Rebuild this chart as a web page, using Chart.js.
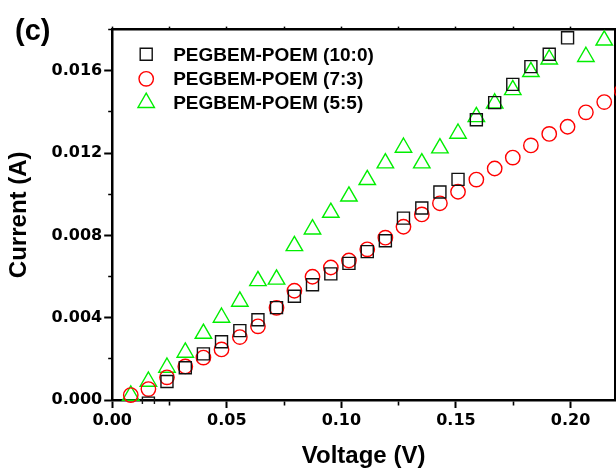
<!DOCTYPE html>
<html>
<head>
<meta charset="utf-8">
<script src="https://cdn.jsdelivr.net/npm/chart.js@4.4.1/dist/chart.umd.min.js"></script>
<style>
html,body{margin:0;padding:0;background:#fff;}
#wrap{width:616px;height:473px;}
</style>
</head>
<body>
<div id="wrap"><canvas id="c" width="616" height="473"></canvas></div>
<script>
// ---- data ----
const voltage = [0.0081, 0.0158, 0.0239, 0.0319, 0.0398, 0.0477, 0.0557, 0.0636, 0.0717, 0.0795,
                 0.0874, 0.0954, 0.1033, 0.1113, 0.1192, 0.1271, 0.1351, 0.1430, 0.1509, 0.1589,
                 0.1669, 0.1748, 0.1827, 0.1907, 0.1987, 0.2067, 0.2147, 0.2224];
const current10_0 = [null, -0.00015, 0.00090, 0.00157, 0.00224, 0.00283, 0.00337, 0.00390, 0.00449, 0.00504,
                     0.00560, 0.00613, 0.00664, 0.00721, 0.00774, 0.00884, 0.00933, 0.01011, 0.01072, 0.01362,
                     0.01445, 0.01534, 0.01620, 0.01680, 0.01760, null, null, null];
const current7_3 = [0.00024, 0.00053, 0.00110, 0.00163, 0.00206, 0.00246, 0.00306, 0.00358, 0.00448, 0.00531,
                    0.00599, 0.00644, 0.00678, 0.00732, 0.00789, 0.00842, 0.00902, 0.00956, 0.01012, 0.01071,
                    0.01125, 0.01178, 0.01237, 0.01293, 0.01328, 0.01398, 0.01448, 0.01501];
const current5_5 = [0.00022, 0.00090, 0.00158, 0.00231, 0.00323, 0.00401, 0.00479, 0.00579, 0.00586, 0.00749,
                    0.00830, 0.00911, 0.00990, 0.01070, 0.01151, 0.01227, 0.01151, 0.01224, 0.01295, 0.01376,
                    0.01442, 0.01507, 0.01595, 0.01656, null, 0.01668, 0.01748, null];
const seriesNames = ['PEGBEM-POEM (10:0)', 'PEGBEM-POEM (7:3)', 'PEGBEM-POEM (5:5)'];
const xTickValues = [0, 0.025, 0.05, 0.075, 0.10, 0.125, 0.15, 0.175, 0.20];
const xTickLabels = ['0.00', '', '0.05', '', '0.10', '', '0.15', '', '0.20'];
const yTickValues = [0, 0.002, 0.004, 0.006, 0.008, 0.010, 0.012, 0.014, 0.016, 0.018];
const yTickLabels = ['0.000', '', '0.004', '', '0.008', '', '0.012', '', '0.016', ''];
const xRange = [0, 0.2194];
const yRange = [0, 0.018];
const panelLabel = '(c)';
const xTitle = 'Voltage (V)';
const yTitle = 'Current (A)';

// ---- chart ----
const FONT = "'Liberation Sans', Arial, sans-serif";
const TICKFONT = "'DejaVu Sans', 'Liberation Sans', sans-serif";
const pts = arr => voltage.map((v, i) => ({x: v, y: arr[i]}));

const styles = [
  {pointStyle: 'rect', radius: 8.5, color: '#111111'},
  {pointStyle: 'circle', radius: 7.2, color: '#ff0000'},
  {pointStyle: 'triangle', radius: 9.5, color: '#00ee00'}
];
const seriesData = [current10_0, current7_3, current5_5];

const datasets = seriesData.map((arr, i) => ({
  label: seriesNames[i],
  data: pts(arr),
  showLine: false,
  pointStyle: styles[i].pointStyle,
  pointRadius: styles[i].radius,
  pointHoverRadius: styles[i].radius,
  pointBorderWidth: 1.4,
  pointBorderColor: styles[i].color,
  pointBackgroundColor: 'rgba(0,0,0,0)',
  borderColor: styles[i].color,
  backgroundColor: 'rgba(0,0,0,0)',
  clip: i === 0 ? {left: false, top: false, right: false, bottom: 4} : false
}));

function drawMarker(ctx, style, x, y) {
  ctx.save();
  ctx.strokeStyle = style.color;
  ctx.fillStyle = 'rgba(0,0,0,0)';
  ctx.lineWidth = 1.4;
  if (Chart.helpers && Chart.helpers.drawPoint) {
    Chart.helpers.drawPoint(ctx, {pointStyle: style.pointStyle, radius: style.radius, rotation: 0, borderWidth: 1.4}, x, y);
  } else {
    ctx.beginPath();
    const r = style.radius;
    if (style.pointStyle === 'rect') { const s = r * Math.SQRT1_2; ctx.rect(x - s, y - s, 2 * s, 2 * s); }
    else if (style.pointStyle === 'circle') { ctx.arc(x, y, r, 0, Math.PI * 2); }
    else { ctx.moveTo(x, y - r); ctx.lineTo(x + r * 0.866, y + r / 2); ctx.lineTo(x - r * 0.866, y + r / 2); ctx.closePath(); }
    ctx.stroke();
  }
  ctx.restore();
}

const decorPlugin = {
  id: 'decor',
  afterDraw(chart) {
    const ctx = chart.ctx;
    const a = chart.chartArea;
    ctx.save();
    // panel label
    ctx.fillStyle = '#000';
    ctx.font = "bold 29px " + FONT;
    ctx.textAlign = 'left';
    ctx.textBaseline = 'alphabetic';
    ctx.fillText(panelLabel, 15, 40);
    // inset legend
    const markerY = [24.7, 49.2, 73.1];
    const textY = [31.6, 55.8, 79.4];
    ctx.font = "bold 19px " + FONT;
    chart.data.datasets.forEach((ds, i) => {
      drawMarker(ctx, styles[i], a.left + 34, a.top + markerY[i]);
      ctx.fillStyle = '#000';
      ctx.fillText(ds.label, a.left + 61, a.top + textY[i]);
    });
    ctx.restore();
  }
};

const zeroPad = s => { s.paddingLeft = 0; s.paddingRight = 0; s.paddingTop = 0; s.paddingBottom = 0; };
const isMajorX = c => xTickLabels[c.index] !== '';
const isMajorY = c => yTickLabels[c.index] !== '';
const tickFont = {family: TICKFONT, weight: 'bold', size: 16};
const titleFont = {family: FONT, weight: 'bold', size: 24};

new Chart(document.getElementById('c'), {
  type: 'scatter',
  data: {datasets},
  options: {
    responsive: false,
    animation: false,
    events: [],
    layout: {autoPadding: false, padding: {left: 0, right: 1, top: 26.6, bottom: 0}},
    plugins: {legend: {display: false}, tooltip: {enabled: false}},
    scales: {
      x: {
        type: 'linear', position: 'bottom', min: xRange[0], max: xRange[1],
        afterBuildTicks: s => { s.ticks = xTickValues.map(v => ({value: v})); },
        afterFit: s => { s.height = 73; zeroPad(s); },
        ticks: {callback: (v, i) => xTickLabels[i], font: tickFont, color: '#000', padding: 3, maxRotation: 0, autoSkip: false},
        grid: {drawOnChartArea: false, drawTicks: true, tickLength: 8, tickColor: '#000',
               tickWidth: c => isMajorX(c) ? 2 : 1.6,
               tickBorderDash: c => isMajorX(c) ? [] : [4, 100]},
        border: {display: true, color: '#000', width: 2.5},
        title: {display: true, text: xTitle, font: titleFont, color: '#000', padding: {top: 0, bottom: 2.6}}
      },
      xTop: {
        type: 'linear', position: 'top', min: xRange[0], max: xRange[1],
        afterBuildTicks: s => { s.ticks = xTickValues.map(v => ({value: v})); },
        afterFit: s => { s.height = 3; zeroPad(s); },
        ticks: {display: false},
        grid: {drawOnChartArea: false, drawTicks: true, tickLength: 3, tickColor: '#000', tickWidth: 1.5},
        border: {display: true, color: '#000', width: 2.5}
      },
      y: {
        type: 'linear', position: 'left', min: yRange[0], max: yRange[1],
        afterBuildTicks: s => { s.ticks = yTickValues.map(v => ({value: v})); },
        afterFit: s => { s.width = 112.2; zeroPad(s); },
        ticks: {callback: (v, i) => yTickLabels[i], font: tickFont, color: '#000', padding: 2, autoSkip: false},
        grid: {drawOnChartArea: false, drawTicks: true, tickLength: 8, tickColor: '#000',
               tickWidth: c => isMajorY(c) ? 2 : 1.6,
               tickBorderDash: c => isMajorY(c) ? [] : [0, 4, 4, 100]},
        border: {display: true, color: '#000', width: 2.5},
        title: {display: true, text: yTitle, font: titleFont, color: '#000', padding: {top: 5, bottom: 0}}
      },
      yRight: {
        type: 'linear', position: 'right', min: yRange[0], max: yRange[1],
        afterFit: s => { s.width = 0; zeroPad(s); },
        ticks: {display: false},
        grid: {display: false, drawTicks: false},
        border: {display: true, color: '#000', width: 2}
      }
    }
  },
  plugins: [decorPlugin]
});
</script>
</body>
</html>
